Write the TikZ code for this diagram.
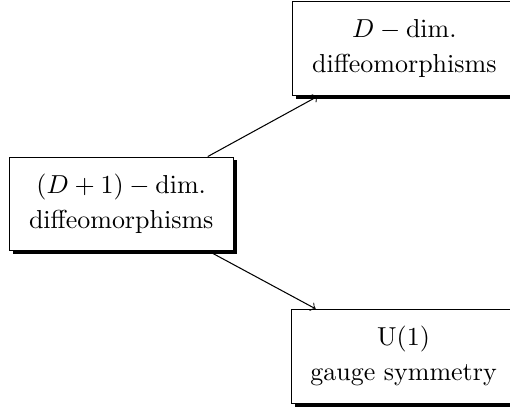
\documentclass[tikz,border=0pt]{standalone}
\usepackage{amsmath}
\usetikzlibrary{shadows}

\begin{document}
\begin{tikzpicture}[>=to, thin,
    box/.style={draw, fill=white, align=center,
      minimum width=3.03cm, minimum height=1.27cm, inner sep=2pt,
      drop shadow={shadow xshift=1.3pt, shadow yshift=-1.3pt,
        fill=black, opacity=1}}]
  \useasboundingbox (0,0) rectangle (6.90,5.50);
  % --- left: bulk ---
  \node[box] (bulk) at (1.64,2.74) {$(D+1)-\mathrm{dim.}$\\[1.5pt] diffeomorphisms};

  % --- right: boundary ---
  \node[box] (bdiff) at (5.47,4.84) {$D-\mathrm{dim.}$\\[1.5pt] diffeomorphisms};
  \node[box] (gauge) at (5.46,0.68) {U(1)\\[1.5pt] gauge symmetry};

  % --- arrows ---
  \draw[->] (bulk) -- (bdiff);
  \draw[->] (bulk) -- (gauge);
\end{tikzpicture}
\end{document}
